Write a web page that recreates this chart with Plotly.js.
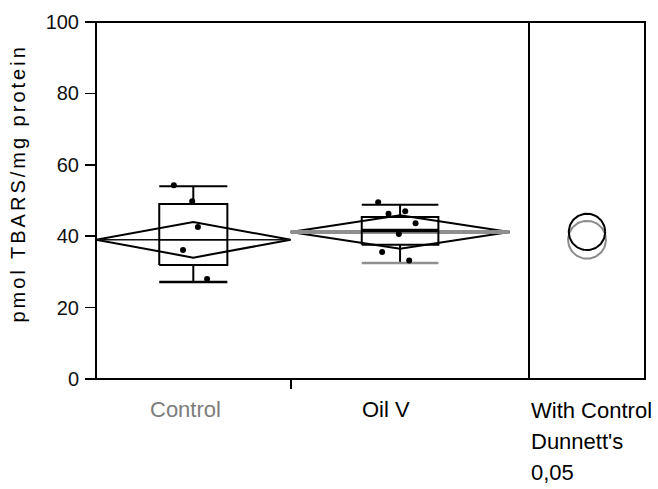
<!DOCTYPE html>
<html>
<head>
<meta charset="utf-8">
<script src="https://cdn.plot.ly/plotly-3.0.1.min.js"></script>
<style>
  html, body { margin: 0; padding: 0; background: #ffffff; }
  #chart { width: 658px; height: 489px; }
</style>
</head>
<body>
<div id="chart"></div>
<script>
// One-way analysis of TBARS by group: means diamonds, box plots and
// Dunnett's comparison circles (with Control, alpha 0,05).
const categories = ['Control', 'Oil V'];
const means = [39.0, 41.2];
const ciHalfWidth = [5.0, 4.7];
const whiskerLow = [27.2, 32.5];
const quartile1 = [31.9, 37.6];
const medians = [39.0, 41.6];
const quartile3 = [49.0, 45.4];
const whiskerHigh = [54.0, 48.8];
const controlValues = [54.3, 42.6, 36.1, 28.0, 49.8];
const oilValues = [49.5, 47.0, 46.3, 43.6, 40.6, 35.6, 33.2];
const circleRadius = [5.3, 5.1];
const yTickValues = [0, 20, 40, 60, 80, 100];
const comparisonLabel = ['With Control', "Dunnett's", '0,05'];
const yTitle = 'pmol TBARS/mg protein';

// ---- layout helpers ----
const span = [8, 9];            // horizontal share of each group
const xMax = 17.8;              // left panel x range
const leftFrac = 433 / 549;     // left panel share of plot width
const starts = [0, span[0]];
const centers = starts.map((s, i) => s + span[i] / 2);
const groupValues = [controlValues, oilValues];
const FONT = 'Liberation Sans, Arial, sans-serif';

const traces = [];
const line = (x, y, color, width) => ({
  x, y, type: 'scatter', mode: 'lines', xaxis: 'x', yaxis: 'y',
  line: { color, width }, hoverinfo: 'skip', showlegend: false
});

categories.forEach((name, i) => {
  const s = starts[i], e = starts[i] + span[i], c = centers[i];
  const b = 0.175 * span[i];
  const m = means[i], h = ciHalfWidth[i];
  // means diamond
  traces.push(line([s, c, e, c, s], [m, m + h, m, m - h, m], '#000', 2));
  // mean line
  traces.push(line([s, e], [m, m], i === 0 ? '#111' : '#8f8f8f', i === 0 ? 1.5 : 4));
  // box
  traces.push(line([c - b, c + b, c + b, c - b, c - b],
    [quartile1[i], quartile1[i], quartile3[i], quartile3[i], quartile1[i]], '#000', 2));
  traces.push(line([c - b, c + b], [medians[i], medians[i]], '#000', i === 0 ? 1.5 : 3.5));
  // whiskers and caps
  traces.push(line([c, c], [quartile3[i], whiskerHigh[i]], '#000', 2));
  traces.push(line([c, c], [quartile1[i], whiskerLow[i]], '#000', 2));
  traces.push(line([c - b, c + b], [whiskerHigh[i], whiskerHigh[i]], '#000', 2));
  traces.push(line([c - b, c + b], [whiskerLow[i], whiskerLow[i]], i === 0 ? '#000' : '#8f8f8f', 2.5));
  // raw observations, spread a little sideways
  const vals = groupValues[i];
  const xs = vals.map((v, k) => c + ((((k * 0.618) % 1) - 0.5) * 0.2 * span[i]));
  traces.push({
    x: xs, y: vals, type: 'scatter', mode: 'markers', xaxis: 'x', yaxis: 'y',
    marker: { color: '#000', size: 6 }, hoverinfo: 'skip', showlegend: false
  });
});

// comparison circles (right panel, equal pixel scale on x2 and y)
const panelPx = 549 - 433, plotH = 357;
const halfX2 = panelPx * 100 / plotH / 2;
const circleColors = ['#8c8c8c', '#000000'];
categories.forEach((name, i) => {
  const xs = [], ys = [];
  for (let k = 0; k <= 90; k++) {
    const t = 2 * Math.PI * k / 90;
    xs.push(circleRadius[i] * Math.cos(t));
    ys.push(means[i] + circleRadius[i] * Math.sin(t));
  }
  traces.push({
    x: xs, y: ys, type: 'scatter', mode: 'lines', xaxis: 'x2', yaxis: 'y',
    line: { color: circleColors[i], width: 2 }, hoverinfo: 'skip', showlegend: false
  });
});

const annotations = [];
const labelColors = ['#7d7d7d', '#000'];
const labelShift = [-8, -14];
categories.forEach((name, i) => {
  annotations.push({
    text: name, xref: 'x', yref: 'paper', x: centers[i], y: 0,
    xanchor: 'center', yanchor: 'top', yshift: -16, xshift: labelShift[i],
    showarrow: false, font: { family: FONT, size: 22, color: labelColors[i] }
  });
});
comparisonLabel.forEach((t, k) => {
  annotations.push({
    text: t, xref: 'paper', yref: 'paper', x: leftFrac, y: 0,
    xanchor: 'left', yanchor: 'top', yshift: -17 - 31 * k,
    showarrow: false, font: { family: FONT, size: 22, color: '#000' }
  });
});
annotations.push({
  text: yTitle, xref: 'paper', yref: 'paper', x: (18 - 96) / 549, y: (379 - 184) / 357,
  xanchor: 'center', yanchor: 'middle', textangle: -90, showarrow: false,
  font: { family: FONT, size: 20, color: '#000' }
});

const layout = {
  width: 658, height: 489,
  margin: { l: 96, r: 13, t: 22, b: 110 },
  paper_bgcolor: '#fff', plot_bgcolor: '#fff',
  showlegend: false,
  xaxis: {
    domain: [0, leftFrac], range: [0, xMax], showgrid: false, zeroline: false,
    showline: false, tickmode: 'array', tickvals: [span[0]], ticktext: [''],
    ticks: 'outside', ticklen: 9, tickwidth: 2, tickcolor: '#000', fixedrange: true
  },
  xaxis2: {
    domain: [leftFrac, 1], range: [-halfX2, halfX2], showgrid: false,
    zeroline: false, showline: false, showticklabels: false, ticks: '', fixedrange: true
  },
  yaxis: {
    range: [0, 100], tickmode: 'array', tickvals: yTickValues,
    showgrid: false, zeroline: false, showline: false,
    ticks: 'outside', ticklen: 10, tickwidth: 1.5, tickcolor: '#000',
    ticklabelstandoff: 2,
    tickfont: { family: FONT, size: 20, color: '#111' }, fixedrange: true
  },
  shapes: [
    { type: 'rect', xref: 'paper', yref: 'paper', x0: 0, x1: 1, y0: 0, y1: 1,
      line: { color: '#000', width: 2 } },
    { type: 'line', xref: 'paper', yref: 'paper', x0: leftFrac, x1: leftFrac, y0: 0, y1: 1,
      line: { color: '#000', width: 2 } }
  ],
  annotations
};

Plotly.newPlot('chart', traces, layout, { displayModeBar: false, staticPlot: true })
  .then(() => {
    // the axis title is set a little wider than the default spacing
    const texts = document.querySelectorAll('.annotation-text');
    texts.forEach(t => {
      if (t.textContent === yTitle) t.style.letterSpacing = '3px';
    });
  });
</script>
</body>
</html>
